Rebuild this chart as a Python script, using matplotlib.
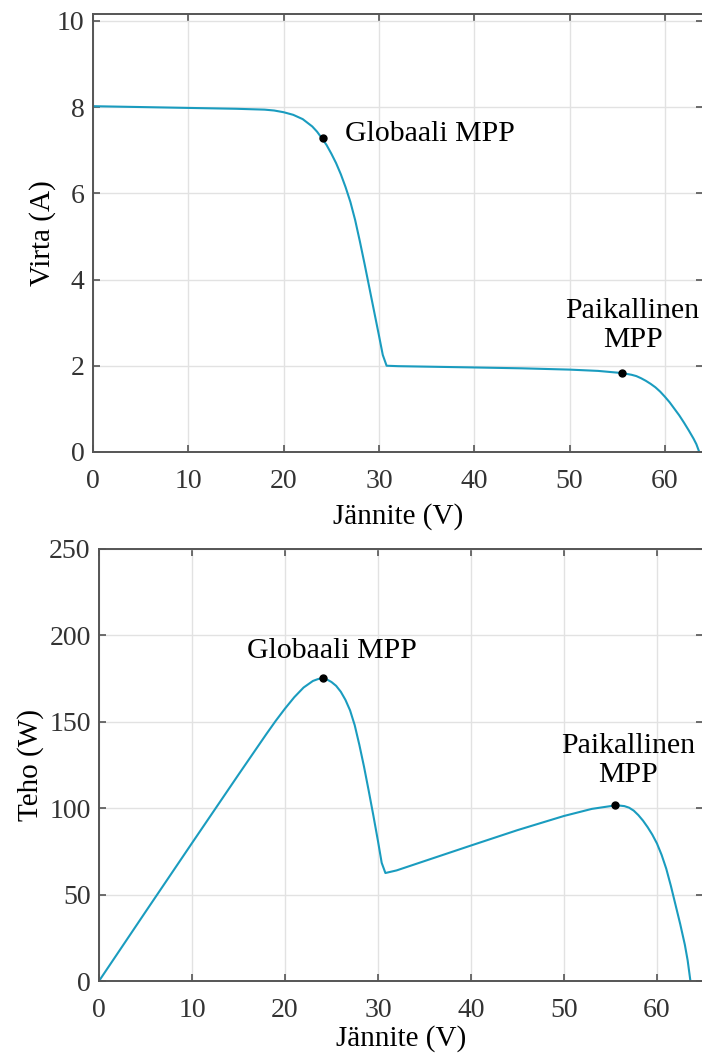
import numpy as np
from matplotlib import pyplot as plt

# I-V curve (top)
volt_i = [0, 5, 10, 15, 18, 19, 20, 21, 22, 23, 23.5, 24, 24.5, 25, 25.5, 26,
          26.5, 27, 27.5, 28, 28.5, 29, 29.5, 30, 30.4, 30.8, 32, 40, 45, 50,
          53, 55.5, 56, 56.5, 57, 57.5, 58, 58.5, 59, 59.5, 60, 60.5, 61,
          61.5, 62, 62.5, 63, 63.3, 63.6]
current = [8.02, 8.0, 7.98, 7.96, 7.94, 7.92, 7.88, 7.82, 7.72, 7.55, 7.43,
           7.28, 7.12, 6.92, 6.7, 6.44, 6.14, 5.8, 5.38, 4.88, 4.35, 3.8,
           3.25, 2.7, 2.25, 2.0, 1.99, 1.96, 1.94, 1.91, 1.88, 1.83, 1.81,
           1.79, 1.76, 1.71, 1.65, 1.58, 1.5, 1.4, 1.28, 1.15, 1.0, 0.85,
           0.68, 0.5, 0.31, 0.18, 0.0]

# P-V curve (bottom)
volt_p = [0, 5, 10, 15, 18, 19, 20, 21, 22, 23, 23.5, 24.1, 24.5, 25, 25.5,
          26, 26.5, 27, 27.5, 28, 28.5, 29, 29.5, 30, 30.4, 30.8, 32, 40, 45,
          50, 53, 55.5, 56, 56.5, 57, 57.5, 58, 58.5, 59, 59.5, 60, 60.5, 61,
          61.5, 62, 62.5, 63, 63.3, 63.6]
power = [0, 40, 79.8, 119.4, 142.9, 150.5, 157.6, 164.2, 169.8, 173.6, 174.6,
         175.5, 174.5, 173, 170.8, 167.4, 162.7, 156.6, 148, 136.6, 124,
         110.2, 95.9, 81, 68.4, 62.5, 64, 78.4, 87.3, 95.5, 99.6, 101.6,
         101.5, 101.2, 100.3, 98.6, 96, 92.8, 89, 84.7, 79.6, 73, 65,
         55, 44, 33, 21, 12, 0]

mpp_v = [24.1, 55.5]
mpp_i = [7.28, 1.83]
mpp_p = [175.5, 101.6]

line_col = '#1a9cbf'
plt.rcParams['font.family'] = ['Liberation Serif', 'DejaVu Serif']


def style_axes(ax):
    ax.grid(True, color='#e2e2e2', linewidth=1.0)
    ax.set_axisbelow(True)
    for s in ax.spines.values():
        s.set_color('#555555')
        s.set_linewidth(1.4)
    ax.tick_params(direction='in', length=5, width=1.2, colors='#555555',
                   labelcolor='#333333', labelsize=20, top=True, right=True,
                   pad=6)
    ax.tick_params(axis='x', pad=12)


fig = plt.figure(figsize=(7.02, 10.55), dpi=100)

ax1 = fig.add_axes([0.1325, 0.5716, 0.869, 0.4152])
ax1.plot(volt_i, current, color=line_col, lw=1.5)
ax1.plot(mpp_v, mpp_i, 'o', color='black', ms=5)
ax1.set_xlim(0, 64)
ax1.set_ylim(0, 10.16)
ax1.set_xticks(np.arange(0, 61, 10))
ax1.set_yticks(np.arange(0, 11, 2))
style_axes(ax1)
ax1.set_xlabel('Jännite (V)', fontsize=21, labelpad=7)
ax1.set_ylabel('Virta (A)', fontsize=21, labelpad=1)
ax1.text(26.4, 7.37, 'Globaali MPP', fontsize=21.5, ha='left', va='center')
ax1.text(56.6, 2.93, 'Paikallinen\nMPP', fontsize=21.5, ha='center',
         va='center', linespacing=1.15)

ax2 = fig.add_axes([0.141, 0.0701, 0.8604, 0.4096])
ax2.plot(volt_p, power, color=line_col, lw=1.5)
ax2.plot(mpp_v, mpp_p, 'o', color='black', ms=5)
ax2.set_xlim(0, 64.95)
ax2.set_ylim(0, 250)
ax2.set_xticks(np.arange(0, 61, 10))
ax2.set_yticks(np.arange(0, 251, 50))
style_axes(ax2)
ax2.set_xlabel('Jännite (V)', fontsize=21, labelpad=2)
ax2.set_ylabel('Teho (W)', fontsize=21, labelpad=4)
ax2.text(25.05, 191, 'Globaali MPP', fontsize=21.5, ha='center', va='center')
ax2.text(56.9, 127.6, 'Paikallinen\nMPP', fontsize=21.5, ha='center',
         va='center', linespacing=1.15)

plt.savefig('out.png', dpi=100)
